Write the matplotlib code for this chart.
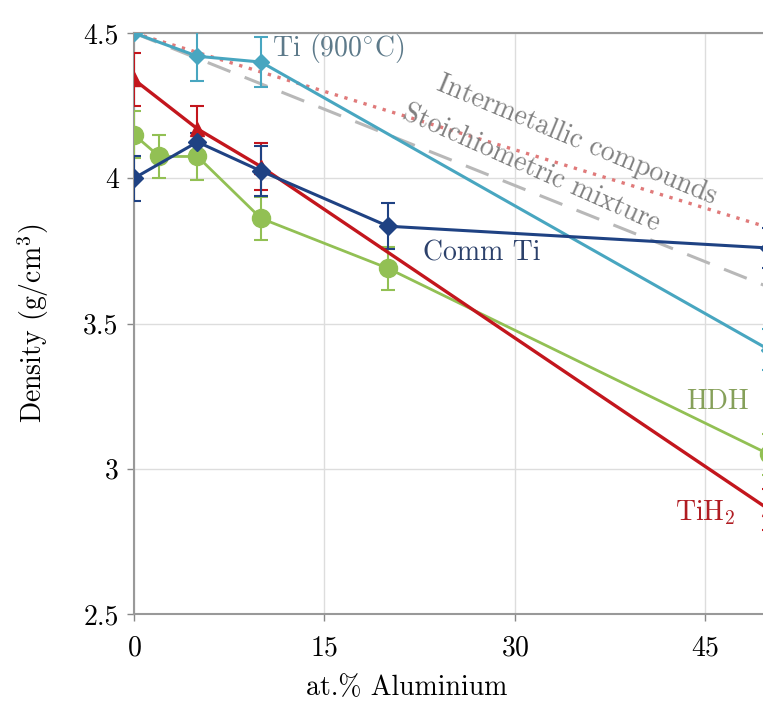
import numpy as np
import matplotlib.pyplot as plt

plt.rcParams["font.family"] = "serif"
plt.rcParams["font.serif"] = ["cmr10", "DejaVu Serif"]
plt.rcParams["mathtext.fontset"] = "cm"
plt.rcParams["axes.formatter.use_mathtext"] = True

# density data (g/cm3) vs at.% Al
ti900_x = [0, 5, 10, 50]
ti900_y = [4.50, 4.42, 4.40, 3.41]
ti900_err = [0.0, 0.085, 0.085, 0.07]

tih2_x = [0, 5, 10, 50]
tih2_y = [4.34, 4.17, 4.04, 2.86]
tih2_err = [0.09, 0.08, 0.08, 0.07]

comm_x = [0, 5, 10, 20, 50]
comm_y = [4.00, 4.125, 4.025, 3.835, 3.76]
comm_err = [0.078, 0.03, 0.085, 0.08, 0.07]

hdh_x = [0, 2, 5, 10, 20, 50]
hdh_y = [4.15, 4.075, 4.075, 3.862, 3.69, 3.05]
hdh_err = [0.08, 0.075, 0.08, 0.075, 0.075, 0.07]

inter_x = [0, 50]
inter_y = [4.50, 3.83]
stoich_x = [0, 50]
stoich_y = [4.50, 3.625]

c_ti = "#48a6c0"
c_red = "#c3161d"
c_navy = "#1f4283"
c_green = "#92c054"

fig = plt.figure(figsize=(7.63, 7.04), dpi=100)
ax = fig.add_axes([0.1756, 0.1278, 0.8322, 0.8253])

ax.plot(inter_x, inter_y, ls=(0, (1, 2)), color="#e07a7a", lw=2.4, zorder=2)
ax.plot(stoich_x, stoich_y, ls=(0, (8, 5)), color="#b8b8b8", lw=2.2, zorder=2)

kw = dict(capsize=5, capthick=1.5, elinewidth=1.5, zorder=3)
ax.errorbar(hdh_x, hdh_y, yerr=hdh_err, color=c_green, marker="o", ms=13,
            lw=2.0, **kw)
ax.errorbar(ti900_x, ti900_y, yerr=ti900_err, color=c_ti, marker="D", ms=8,
            lw=2.2, **kw)
ax.errorbar(tih2_x, tih2_y, yerr=tih2_err, color=c_red, marker="^", ms=10,
            lw=2.4, **kw)
ax.errorbar(comm_x, comm_y, yerr=comm_err, color=c_navy, marker="D", ms=9,
            lw=2.2, **kw)

fs = 20
ax.text(10.9, 4.445, "Ti (900$^{\\circ}$C)", color="#5d7a8a", fontsize=fs,
        ha="left", va="center")
ax.text(34.9, 4.13, "Intermetallic compounds", color="#808080", fontsize=fs,
        rotation=-22.5, ha="center", va="center")
ax.text(31.3, 4.035, "Stoichiometric mixture", color="#808080", fontsize=fs,
        rotation=-24, ha="center", va="center")
ax.text(27.4, 3.743, "Comm Ti", color="#2c416b", fontsize=fs,
        ha="center", va="center")
ax.text(45.98, 3.23, "HDH", color="#86a05a", fontsize=fs,
        ha="center", va="center")
ax.text(44.96, 2.85, "TiH$_2$", color="#b01c22", fontsize=fs,
        ha="center", va="center")

ax.set_xlim(0, 50)
ax.set_ylim(2.5, 4.5)
ax.set_xticks([0, 15, 30, 45])
ax.set_yticks([2.5, 3, 3.5, 4, 4.5])
ax.set_yticklabels(["2.5", "3", "3.5", "4", "4.5"])
ax.tick_params(labelsize=fs, color="#888888", length=5, width=1)
ax.tick_params(axis="x", pad=10)
ax.tick_params(axis="y", pad=6)
ax.grid(True, color="#dddddd", lw=1)
ax.set_axisbelow(True)
for side in ["left", "bottom", "top"]:
    ax.spines[side].set_color("#999999")
    ax.spines[side].set_linewidth(1.5)
ax.spines["right"].set_visible(False)

ax.set_xlabel("at.% Aluminium", fontsize=fs)
ax.xaxis.set_label_coords(0.43, -0.105)
ax.set_ylabel("Density (g/cm$^3$)", fontsize=fs)
ax.yaxis.set_label_coords(-0.13, 0.5)

fig.savefig("out.png", dpi=100)
